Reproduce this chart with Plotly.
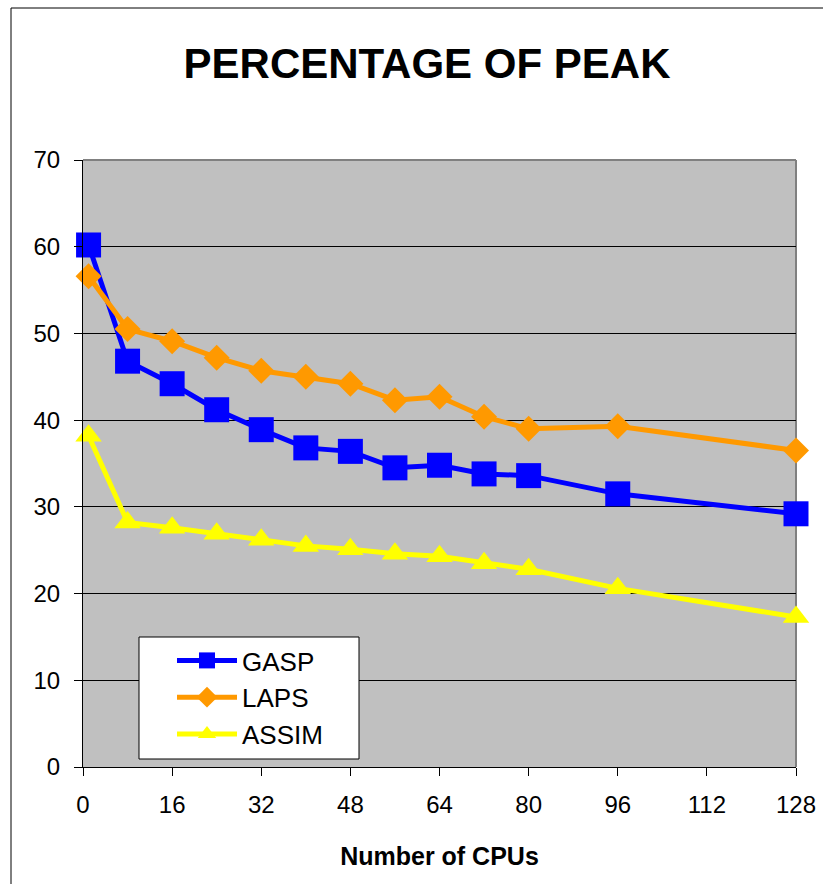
import plotly.graph_objects as go

cpus = [1, 8, 16, 24, 32, 40, 48, 56, 64, 72, 80, 96, 128]
gasp = [60.2, 46.8, 44.2, 41.2, 38.9, 36.8, 36.4, 34.5, 34.8, 33.8, 33.6, 31.5, 29.2]
laps = [56.6, 50.5, 49.1, 47.2, 45.7, 45.0, 44.2, 42.3, 42.7, 40.4, 39.0, 39.3, 36.5]
assim = [38.2, 28.2, 27.6, 26.9, 26.2, 25.5, 25.1, 24.6, 24.3, 23.5, 22.8, 20.6, 17.3]
x_ticks = [0, 16, 32, 48, 64, 80, 96, 112, 128]
y_ticks = [0, 10, 20, 30, 40, 50, 60, 70]

FONT = "Liberation Sans, Arial, sans-serif"
L, R, T, B = 83, 27, 160, 117
PW, PH = 823 - L - R, 884 - T - B

fig = go.Figure()
fig.add_trace(go.Scatter(x=cpus, y=gasp, name="GASP", mode="lines+markers", cliponaxis=False,
                         line=dict(color="#0000FF", width=5),
                         marker=dict(symbol="square", size=25, color="#0000FF")))
fig.add_trace(go.Scatter(x=cpus, y=laps, name="LAPS", mode="lines+markers", cliponaxis=False,
                         line=dict(color="#FF9900", width=5),
                         marker=dict(symbol="diamond", size=20, color="#FF9900")))
fig.add_trace(go.Scatter(x=cpus, y=assim, name="ASSIM", mode="lines+markers", cliponaxis=False,
                         line=dict(color="#FFFF00", width=5),
                         marker=dict(symbol="triangle-up", size=23, color="#FFFF00")))

fig.update_layout(
    width=823, height=884,
    margin=dict(l=L, r=R, t=T, b=B, autoexpand=False),
    paper_bgcolor="white",
    plot_bgcolor="#C0C0C0",
    font=dict(family=FONT, size=24, color="black"),
    title=dict(text="<b>PERCENTAGE OF PEAK</b>", font=dict(family=FONT, size=42, color="black"),
               x=427 / 823, xanchor="center", y=1 - 63 / 884, yanchor="middle"),
    showlegend=True,
    legend=dict(x=(172 - L) / PW, y=(767 - 637) / PH, xanchor="left", yanchor="top",
                bgcolor="rgba(0,0,0,0)", borderwidth=0,
                font=dict(family=FONT, size=26, color="black"),
                itemwidth=60, tracegroupgap=0),
    xaxis=dict(range=[0, 128], tickvals=x_ticks, ticktext=[str(v) for v in x_ticks],
               showgrid=False, zeroline=False, showline=True, linecolor="black", linewidth=1,
               mirror=False, ticks="outside", ticklen=8, tickcolor="black",
               ticklabelstandoff=8, automargin=False,
               tickfont=dict(family=FONT, size=24),
               title=dict(text="<b>Number of CPUs</b>", font=dict(family=FONT, size=25), standoff=30)),
    yaxis=dict(range=[0, 70], tickvals=y_ticks, ticktext=[str(v) for v in y_ticks],
               showgrid=True, gridcolor="black", gridwidth=1, zeroline=False,
               showline=True, linecolor="black", linewidth=1, ticks="outside", ticklen=8,
               ticklabelstandoff=9, automargin=False,
               tickcolor="black", tickfont=dict(family=FONT, size=24)),
)

# legend box
fig.add_shape(type="rect", xref="paper", yref="paper",
              x0=(139 - L) / PW, x1=(359 - L) / PW,
              y0=(767 - 759) / PH, y1=(767 - 637) / PH,
              line=dict(color="black", width=1), fillcolor="white", layer="above")
# grey border on top and right of plot area
fig.add_shape(type="line", xref="paper", yref="paper", x0=0, x1=1, y0=1, y1=1,
              line=dict(color="#808080", width=2), layer="below")
fig.add_shape(type="line", xref="paper", yref="paper", x0=1, x1=1, y0=0, y1=1,
              line=dict(color="#808080", width=2), layer="below")
# outer chart frame
fig.add_shape(type="rect", xref="paper", yref="paper",
              x0=(11 - L) / PW, x1=(840 - L) / PW,
              y0=-(900 - 767) / PH, y1=1 + (T - 8) / PH,
              line=dict(color="black", width=1), fillcolor="rgba(0,0,0,0)", layer="below")

fig.write_html("out.html")
